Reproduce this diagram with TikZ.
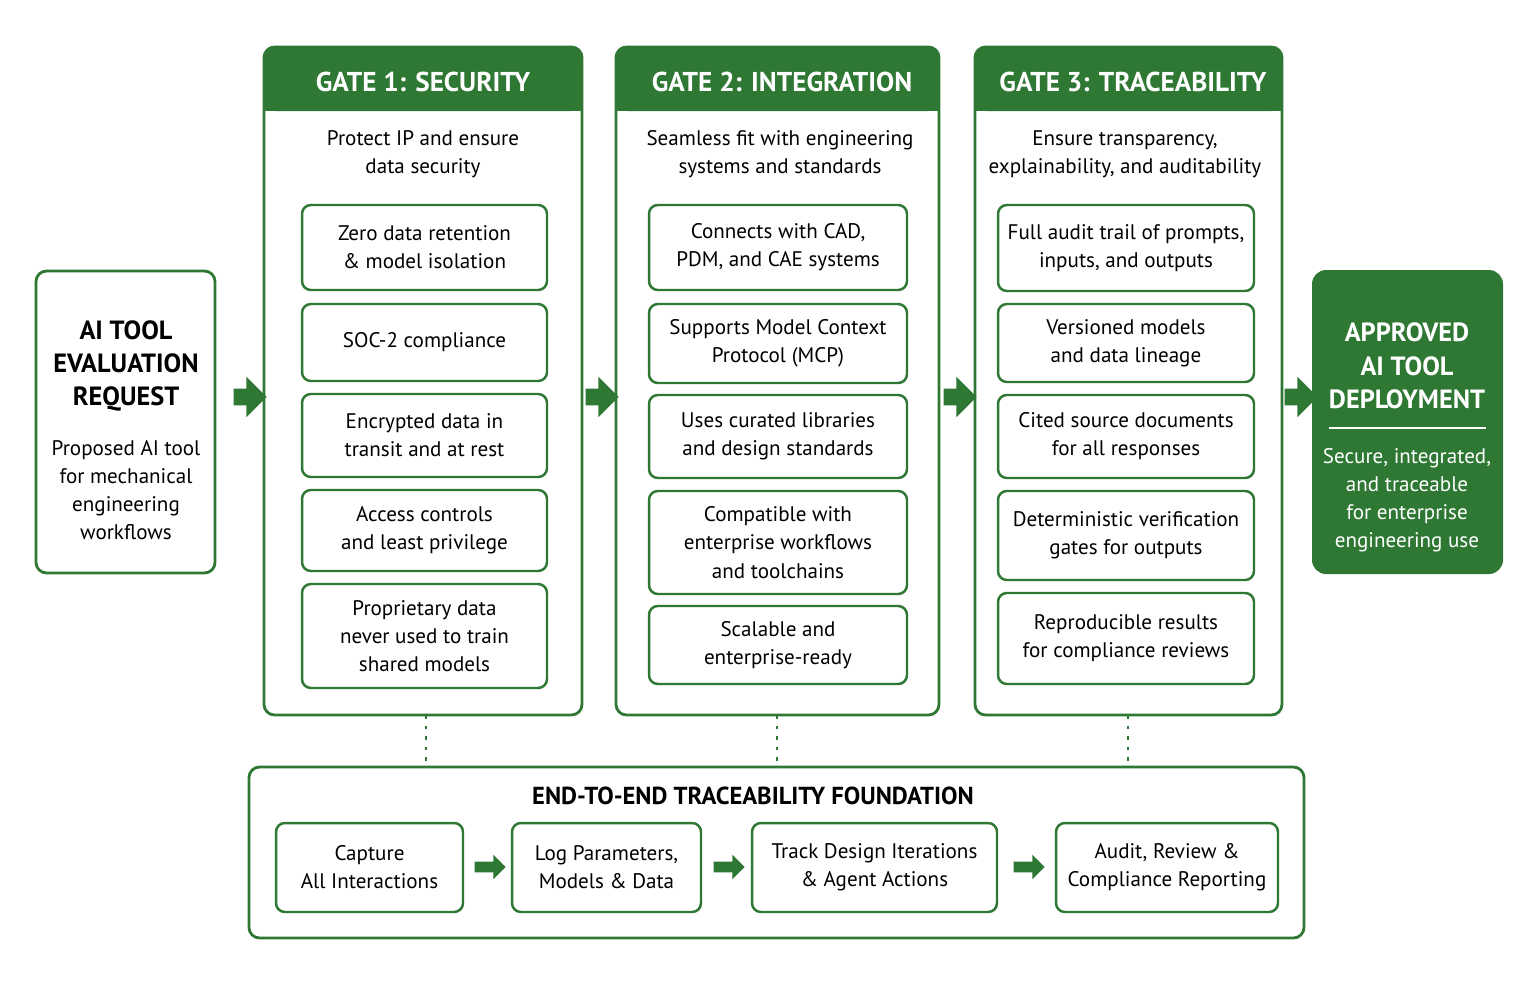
\documentclass[tikz,border=0pt]{standalone}
\usepackage{fontspec}
\setmainfont{PT Sans}
\usetikzlibrary{shapes.arrows,positioning}
\definecolor{gatgreen}{RGB}{46,120,52}
\begin{document}
\begin{tikzpicture}[x=0.02cm,y=-0.02cm,
    gate/.style={draw=gatgreen, line width=1.6pt, rounded corners=6pt},
    item/.style={draw=gatgreen, line width=1.4pt, rounded corners=5pt, align=center, inner sep=0pt, font=\fontsize{12}{16}\selectfont},
    head/.style={text=white, font=\fontsize{15.5}{18}\selectfont\bfseries},
    sub/.style={align=center, font=\fontsize{12}{16}\selectfont},
    bigarrow/.style={single arrow, fill=gatgreen, draw=none, minimum height=0.66cm, minimum width=0.8cm, inner xsep=0pt, inner ysep=0.16cm, single arrow head extend=0.24cm},
    smallarrow/.style={single arrow, fill=gatgreen, draw=none, minimum height=0.62cm, minimum width=0.48cm, inner xsep=0pt, inner ysep=0.1cm, single arrow head extend=0.14cm}
]
\useasboundingbox (0,0) rectangle (1536,988);

% left request box
\draw[gate] (36,271) rectangle (215,573);
\node[sub, font=\fontsize{15}{19}\selectfont\bfseries] (req) at (126,366) {AI TOOL\\EVALUATION\\REQUEST};
\node[sub] (reqtxt) at (126,490) {Proposed AI tool\\for mechanical\\engineering\\workflows};

% gates
\foreach \xa/\xb/\name in {264/582/g1, 616/939/g2, 975/1282/g3} {
    \fill[gatgreen, rounded corners=6pt] (\xa,47) rectangle (\xb,111);
    \fill[gatgreen] (\xa,80) rectangle (\xb,111);
    \draw[gate] (\xa,47) rectangle (\xb,715);
    \coordinate (\name) at ({(\xa+\xb)/2},715);
}
\node[head] (h1) at (423,82) {GATE 1: SECURITY};
\node[head] (h2) at (782,82) {GATE 2: INTEGRATION};
\node[head] (h3) at (1133,82) {GATE 3: TRACEABILITY};
\node[sub] (s1) at (423,154) {Protect IP and ensure\\data security};
\node[sub] (s2) at (780,154) {Seamless fit with engineering\\systems and standards};
\node[sub] (s3) at (1125,154) {Ensure transparency,\\explainability, and auditability};

% gate 1 items
\foreach \ya/\yb/\txt in {205/290/{Zero data retention\\\& model isolation}, 304/381/{SOC-2 compliance}, 394/477/{Encrypted data in\\transit and at rest}, 490/571/{Access controls\\and least privilege}, 584/688/{Proprietary data\\never used to train\\shared models}} {
    \node[item, minimum width=4.9cm, minimum height={(\yb-\ya)*0.02cm}] at (424.5,{(\ya+\yb)/2}) {\txt};
}
% gate 2 items
\foreach \ya/\yb/\txt in {205/290/{Connects with CAD,\\PDM, and CAE systems}, 304/383/{Supports Model Context\\Protocol (MCP)}, 395/478/{Uses curated libraries\\and design standards}, 491/594/{Compatible with\\enterprise workflows\\and toolchains}, 606/684/{Scalable and\\enterprise-ready}} {
    \node[item, minimum width=5.16cm, minimum height={(\yb-\ya)*0.02cm}] at (778,{(\ya+\yb)/2}) {\txt};
}
% gate 3 items
\foreach \ya/\yb/\txt in {205/291/{Full audit trail of prompts,\\inputs, and outputs}, 304/382/{Versioned models\\and data lineage}, 395/478/{Cited source documents\\for all responses}, 491/580/{Deterministic verification\\gates for outputs}, 593/684/{Reproducible results\\for compliance reviews}} {
    \node[item, minimum width=5.12cm, minimum height={(\yb-\ya)*0.02cm}] at (1126,{(\ya+\yb)/2}) {\txt};
}

% approved box
\fill[gatgreen, rounded corners=8pt] (1312,270) rectangle (1503,574);
\node[sub, text=white, font=\fontsize{15}{19}\selectfont\bfseries] (appr) at (1407,366) {APPROVED\\AI TOOL\\DEPLOYMENT};
\draw[white, line width=1.5pt] (1329,428) -- (1486,428);
\node[sub, text=white] (apptxt) at (1407,500) {Secure, integrated,\\and traceable\\for enterprise\\engineering use};

% big arrows
\node[bigarrow] at (246,397) {};
\node[bigarrow] at (598,397) {};
\node[bigarrow] at (956,397) {};
\node[bigarrow] at (1297,397) {};

% foundation
\draw[gate] (249,767) rectangle (1304,938);
\node[font=\fontsize{14}{17}\selectfont\bfseries] (ftitle) at (753,796) {END-TO-END TRACEABILITY FOUNDATION};
\coordinate (f1) at (426,767);
\coordinate (f2) at (777,767);
\coordinate (f3) at (1128,767);
\draw[gatgreen, line width=1.4pt, dash pattern=on 2pt off 4pt] (g1 -| f1) -- (f1);
\draw[gatgreen, line width=1.4pt, dash pattern=on 2pt off 4pt] (g2 -| f2) -- (f2);
\draw[gatgreen, line width=1.4pt, dash pattern=on 2pt off 4pt] (g3 -| f3) -- (f3);

\node[item, minimum width=3.74cm, minimum height=1.78cm] (b1) at (369.5,867.5) {Capture\\All Interactions};
\node[item, minimum width=3.78cm, minimum height=1.78cm] (b2) at (606.5,867.5) {Log Parameters,\\Models \& Data};
\node[item, minimum width=4.9cm, minimum height=1.78cm] (b3) at (874.5,867.5) {Track Design Iterations\\\& Agent Actions};
\node[item, minimum width=4.44cm, minimum height=1.78cm] (b4) at (1167,867.5) {Audit, Review \&\\Compliance Reporting};
\node[smallarrow] at (487.5,867) {};
\node[smallarrow] at (726.5,867) {};
\node[smallarrow] at (1026.5,867) {};
\end{tikzpicture}
\end{document}
